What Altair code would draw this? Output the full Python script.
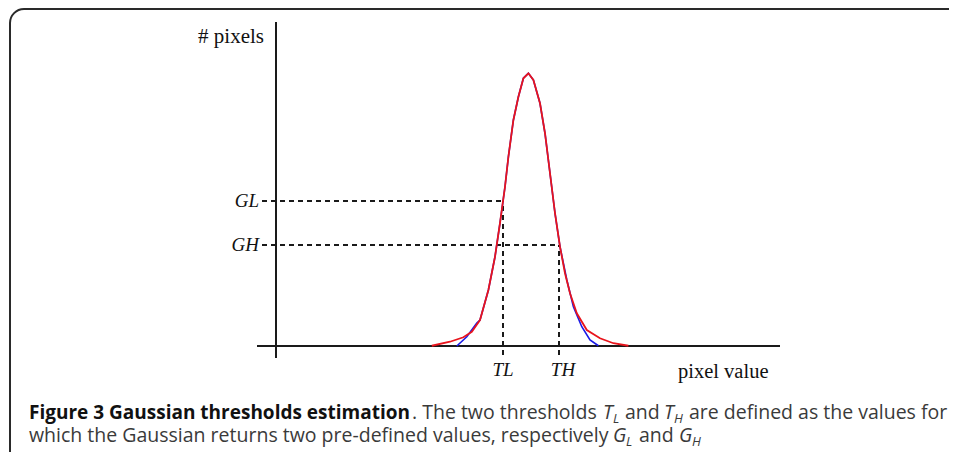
import altair as alt
import pandas as pd

# Histogram (red) and Gaussian fit (blue)
red_x = [77.9, 87, 93.7, 97.9, 102, 106.2, 109.5, 112, 114.5, 116.2, 118.7, 121.2, 123.7,
         126.2, 128.7, 132, 134.5, 137, 139.5, 142, 144.5, 147, 150.4, 155.4, 162, 168.7, 176.2]
red_y = [1, 17, 35, 57, 104, 224, 357, 492, 637, 757, 904, 997, 1071,
         1091, 1064, 971, 851, 691, 531, 397, 291, 211, 131, 64, 31, 11, 1]
blue_x = [90.4, 95.4, 100.4, 102, 106.2, 109.5, 112, 114.5, 116.2, 118.7, 121.2, 123.7,
          126.2, 128.7, 132, 134.5, 137, 139.5, 142, 145.4, 148.7, 152.9, 157, 161.2]
blue_y = [0, 37, 92, 104, 224, 357, 492, 637, 757, 904, 997, 1071,
          1091, 1064, 971, 851, 691, 531, 397, 265, 157, 77, 24, 1]

TL, TH = 113.5, 141.5
GL, GH = 580, 404

x_axis_end = 252
y_axis_top = 1296

W = 941
H = 444
xs = alt.Scale(domain=[-134, -134 + W / 2], nice=False, zero=False)
ys = alt.Scale(domain=[338 * 4 - H * 4, 1352], nice=False, zero=False)
X = lambda f: alt.X(f, type="quantitative", scale=xs, axis=None)
Y = lambda f: alt.Y(f, type="quantitative", scale=ys, axis=None)

one = pd.DataFrame({"a": [0]})

frame = alt.Chart(one).mark_rect(
    fill="white", fillOpacity=0, stroke="#2a2a2a", strokeWidth=2, cornerRadius=14, clip=True
).encode(x=alt.value(2), x2=alt.value(1100), y=alt.value(1), y2=alt.value(600))

axes_df = pd.DataFrame({
    "x": [-9.5, 0], "x2": [x_axis_end, 0], "y": [0, -48], "y2": [0, y_axis_top]
})
axes = alt.Chart(axes_df).mark_rule(color="#1a1a1a", strokeWidth=2).encode(
    x=X("x"), x2="x2", y=Y("y"), y2="y2")

dash_df = pd.DataFrame({
    "x": [-7, -7, TL, TH], "x2": [TL, TH, TL, TH],
    "y": [GL, GH, -36, -36], "y2": [GL, GH, GL, GH]
})
dashes = alt.Chart(dash_df).mark_rule(color="#1a1a1a", strokeWidth=2, strokeDash=[5, 4]).encode(
    x=X("x"), x2="x2", y=Y("y"), y2="y2")

blue = alt.Chart(pd.DataFrame({"x": blue_x, "y": blue_y})).mark_line(
    color="#1a1ae6", strokeWidth=1.6).encode(x=X("x"), y=Y("y"))
red = alt.Chart(pd.DataFrame({"x": red_x, "y": red_y})).mark_line(
    color="#e8141c", strokeWidth=1.8).encode(x=X("x"), y=Y("y"))

serif = "Liberation Serif"
lab_df = pd.DataFrame({"t": ["GL", "GH"], "x": [-8.5, -8.5], "y": [GL, GH]})
glgh = alt.Chart(lab_df).mark_text(font=serif, fontSize=19, fontStyle="italic", align="right",
                                   baseline="middle", color="#111").encode(x=X("x"), y=Y("y"), text="t")
tl_df = pd.DataFrame({"t": ["TL", "TH"], "x": [TL, TH + 2], "y": [-96, -96]})
tltl = alt.Chart(tl_df).mark_text(font=serif, fontSize=19, fontStyle="italic", align="center",
                                  baseline="middle", color="#111").encode(x=X("x"), y=Y("y"), text="t")
pix = alt.Chart(pd.DataFrame({"t": ["# pixels"], "x": [-6], "y": [1236]})).mark_text(
    font=serif, fontSize=21, align="right", baseline="middle", color="#111"
).encode(x=X("x"), y=Y("y"), text="t")
pv = alt.Chart(pd.DataFrame({"t": ["pixel value"], "x": [201], "y": [-104]})).mark_text(
    font=serif, fontSize=20.5, align="left", baseline="middle", color="#111"
).encode(x=X("x"), y=Y("y"), text="t")

# Caption segments (text, x, y, size, weight, style)
cap_font = "Open Sans"
cap_color = "#3a3a3a"
B = 19
N = 19.5
S = 13
segs = [
    ("Figure 3 Gaussian thresholds estimation", 21, 411, B, "bold", "normal"),
    (". The two thresholds", 404, 411, N, "normal", "normal"),
    ("T", 595, 411, N, "normal", "italic"),
    ("L", 605, 415, S, "normal", "italic"),
    ("and", 617, 411, N, "normal", "normal"),
    ("T", 656, 411, N, "normal", "italic"),
    ("H", 666, 415, S, "normal", "italic"),
    ("are defined as the values for", 681, 411, N, "normal", "normal"),
    ("which the Gaussian returns two pre-defined values, respectively", 21, 434, N, "normal", "normal"),
    ("G", 605, 434, N, "normal", "italic"),
    ("L", 618, 438, S, "normal", "italic"),
    ("and", 631, 434, N, "normal", "normal"),
    ("G", 671, 434, N, "normal", "italic"),
    ("H", 684, 438, S, "normal", "italic"),
]
cap_layers = []
for t, x, y, s, w, st in segs:
    cap_layers.append(
        alt.Chart(one).mark_text(text=t, font=cap_font, fontSize=s, fontWeight=w, fontStyle=st,
                                 align="left", baseline="alphabetic",
                                 color="#111" if w == "bold" else cap_color)
        .encode(x=alt.value(x), y=alt.value(y))
    )

chart = alt.layer(frame, axes, dashes, blue, red, glgh, tltl, pix, pv, *cap_layers).properties(
    width=W, height=H, padding=0, autosize=alt.AutoSizeParams(type="none")
).configure_view(stroke=None)

chart.save("out.html", embed_options={"renderer": "svg", "actions": False})
